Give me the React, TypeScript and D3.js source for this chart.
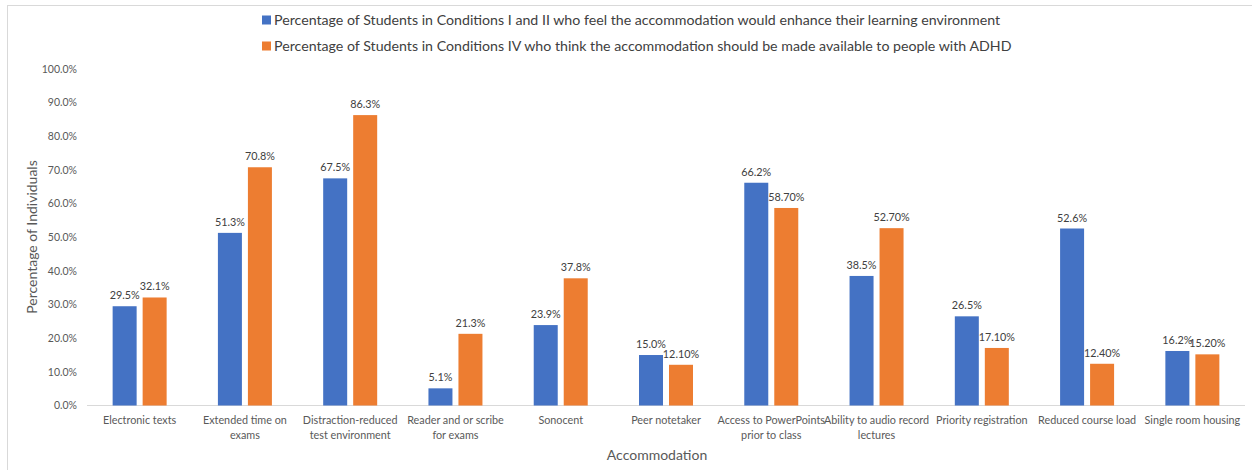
import React from "react";
import * as d3 from "d3";

const categories: string[][] = [
  ["Electronic texts"],
  ["Extended time on", "exams"],
  ["Distraction-reduced", "test environment"],
  ["Reader and or scribe", "for exams"],
  ["Sonocent"],
  ["Peer notetaker"],
  ["Access to PowerPoints", "prior to class"],
  ["Ability to audio record", "lectures"],
  ["Priority registration"],
  ["Reduced course load"],
  ["Single room housing"],
];

const seriesNames = [
  "Percentage of Students in Conditions I and II who feel the accommodation would enhance their learning environment",
  "Percentage of Students in Conditions IV who think the accommodation should be made available to people with ADHD",
];

const valuesA = [29.5, 51.3, 67.5, 5.1, 23.9, 15.0, 66.2, 38.5, 26.5, 52.6, 16.2];
const valuesB = [32.1, 70.8, 86.3, 21.3, 37.8, 12.1, 58.7, 52.7, 17.1, 12.4, 15.2];
const labelsA = ["29.5%", "51.3%", "67.5%", "5.1%", "23.9%", "15.0%", "66.2%", "38.5%", "26.5%", "52.6%", "16.2%"];
const labelsB = ["32.1%", "70.8%", "86.3%", "21.3%", "37.8%", "12.10%", "58.70%", "52.70%", "17.10%", "12.40%", "15.20%"];
const yTicks = [0, 10, 20, 30, 40, 50, 60, 70, 80, 90, 100];

const colors = ["#4472C4", "#ED7D31"];
const FONT = "Lato, 'Open Sans', sans-serif";

export default function App() {
  const W = 1252, H = 470;
  const left = 87, right = 1245, top = 69, bottom = 405.5;
  const x = d3.scaleBand<number>().domain(categories.map((_, i) => i)).range([left, right]);
  const y = d3.scaleLinear().domain([0, 100]).range([bottom, top]);
  const barW = 24, gap = 6;
  const series = [valuesA, valuesB];
  const labels = [labelsA, labelsB];

  return (
    <svg width={W} height={H} style={{ position: "absolute", left: 0, top: 0, background: "#fff" }} fontFamily={FONT}>
      <rect x={7.5} y={5.5} width={W} height={H} fill="#fff" stroke="#d9d9d9" />
      {/* legend */}
      {seriesNames.map((n, i) => (
        <g key={i} transform={`translate(262, ${20 + i * 26})`}>
          <rect x={0} y={-4.5} width={9} height={9} fill={colors[i]} />
          <text x={12} y={0} dy="0.35em" fontSize={14.2} fill="#404040">{n}</text>
        </g>
      ))}
      {/* y ticks */}
      {yTicks.map((t) => (
        <text key={t} x={77} y={y(t)} dy="0.35em" textAnchor="end" fontSize={10.5} fill="#595959">
          {t.toFixed(1)}%
        </text>
      ))}
      <line x1={left} x2={right} y1={bottom} y2={bottom} stroke="#d9d9d9" />
      {/* bars */}
      {series.map((vals, s) =>
        vals.map((v, i) => {
          const cx = (x(i) as number) + x.bandwidth() / 2;
          const bx = s === 0 ? cx - gap / 2 - barW : cx + gap / 2;
          return (
            <g key={`${s}-${i}`}>
              <rect x={bx} y={y(v)} width={barW} height={bottom - y(v)} fill={colors[s]} />
              <text x={bx + barW / 2} y={y(v) - 7} textAnchor="middle" fontSize={10.8} fill="#404040">
                {labels[s][i]}
              </text>
            </g>
          );
        })
      )}
      {/* category labels */}
      {categories.map((lines, i) => {
        const cx = (x(i) as number) + x.bandwidth() / 2;
        return (
          <text key={i} x={cx} y={420} dy="0.35em" textAnchor="middle" fontSize={10.8} fill="#595959">
            {lines.map((l, j) => (
              <tspan key={j} x={cx} dy={j === 0 ? "0.35em" : 15}>{l}</tspan>
            ))}
          </text>
        );
      })}
      <text x={657} y={455} dy="0.35em" textAnchor="middle" fontSize={14} fill="#595959">Accommodation</text>
      <text transform={`translate(32, 237) rotate(-90)`} dy="0.35em" textAnchor="middle" fontSize={14} fill="#595959">
        Percentage of Individuals
      </text>
    </svg>
  );
}
